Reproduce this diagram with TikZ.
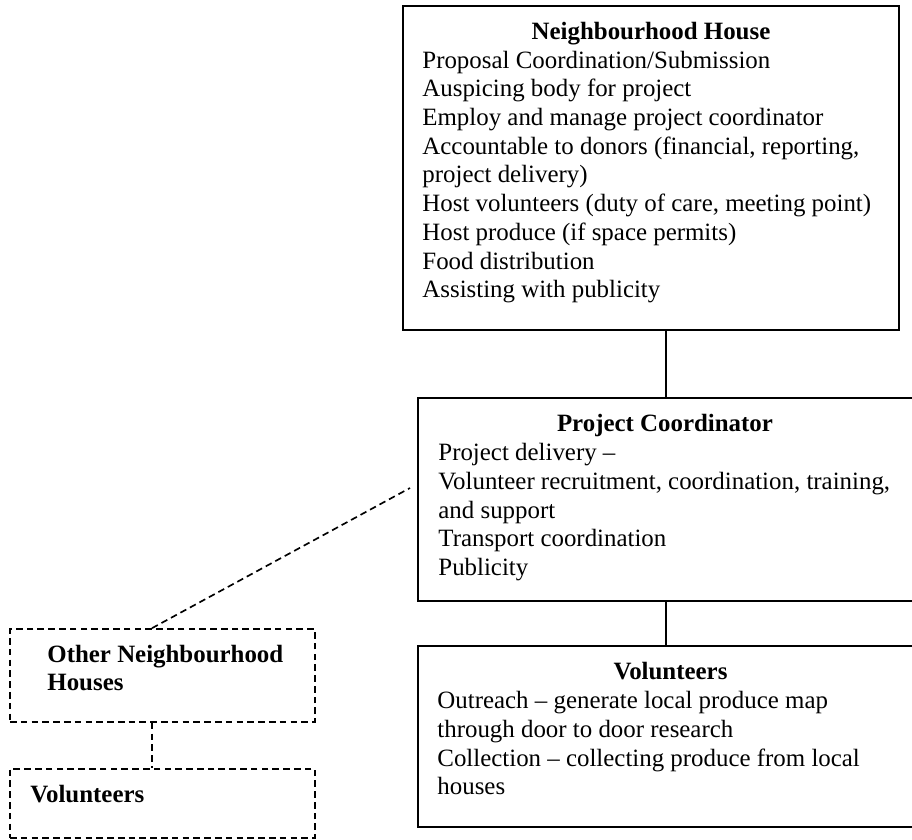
\documentclass[tikz,border=0pt]{standalone}
\usepackage{fontspec}
\setmainfont{Liberation Serif}
\usetikzlibrary{fit}
\begin{document}
\begin{tikzpicture}[x=0.482pt,y=-0.482pt,
  box/.style={draw, line width=0.9pt, inner sep=0pt},
  dbox/.style={draw, line width=0.8pt, inner sep=0pt, dash pattern=on 3.2pt off 2pt},
  ln/.style={anchor=base west, inner sep=0pt, font=\fontsize{12}{13.8}\selectfont},
  hd/.style={anchor=base, inner sep=0pt, font=\fontsize{12}{13.8}\selectfont\bfseries},
  hdl/.style={anchor=base west, inner sep=0pt, font=\fontsize{12}{13.8}\selectfont\bfseries},
  conn/.style={line width=0.9pt},
  dconn/.style={line width=0.8pt, dash pattern=on 3.2pt off 2pt}]
\useasboundingbox (0,0) rectangle (912,840);

% boxes
\node[box, fit={(403,6)(899,330)}] (nh) {};
\node[box, fit={(418,398)(925,601)}] (pc) {};
\node[box, fit={(418,646)(925,827)}] (vol) {};
\node[dbox, fit={(10,629)(315,722)}] (onh) {};
\node[dbox, fit={(10,769)(315,838)}] (ov) {};

% Neighbourhood House text
\node[hd] (nhh) at (651,39.5) {Neighbourhood House};
\foreach \t [count=\i] in {
  {Proposal Coordination/Submission},
  {Auspicing body for project},
  {Employ and manage project coordinator},
  {Accountable to donors (financial, reporting,},
  {project delivery)},
  {Host volunteers (duty of care, meeting point)},
  {Host produce (if space permits)},
  {Food distribution},
  {Assisting with publicity}}
  \node[ln] (nh\i) at (422,{39.5+28.7*\i}) {\t};

% Project Coordinator text
\node[hd] (pch) at (665,432) {Project Coordinator};
\foreach \t [count=\i] in {
  {Project delivery –},
  {Volunteer recruitment, coordination, training,},
  {and support},
  {Transport coordination},
  {Publicity}}
  \node[ln] (pc\i) at (438,{432+28.7*\i}) {\t};

% Volunteers text
\node[hd] (volh) at (670.5,680) {Volunteers};
\foreach \t [count=\i] in {
  {Outreach – generate local produce map},
  {through door to door research},
  {Collection – collecting produce from local},
  {houses}}
  \node[ln] (vol\i) at (437,{680+28.7*\i}) {\t};

% dashed boxes text
\node[hdl] (onh1) at (47,662.5) {Other Neighbourhood};
\node[hdl] (onh2) at (47,691) {Houses};
\node[hdl] (ovh) at (30,803) {Volunteers};

% connectors
\coordinate (cx) at (666,0);
\draw[conn] (nh.south -| cx) -- (pc.north -| cx);
\draw[conn] (pc.south -| cx) -- (vol.north -| cx);
\coordinate (dx) at (152,0);
\coordinate (dend) at (410,488);
\draw[dconn] (onh.north -| dx) -- (dend);
\draw[dconn] (onh.south -| dx) -- (ov.north -| dx);
\end{tikzpicture}
\end{document}
